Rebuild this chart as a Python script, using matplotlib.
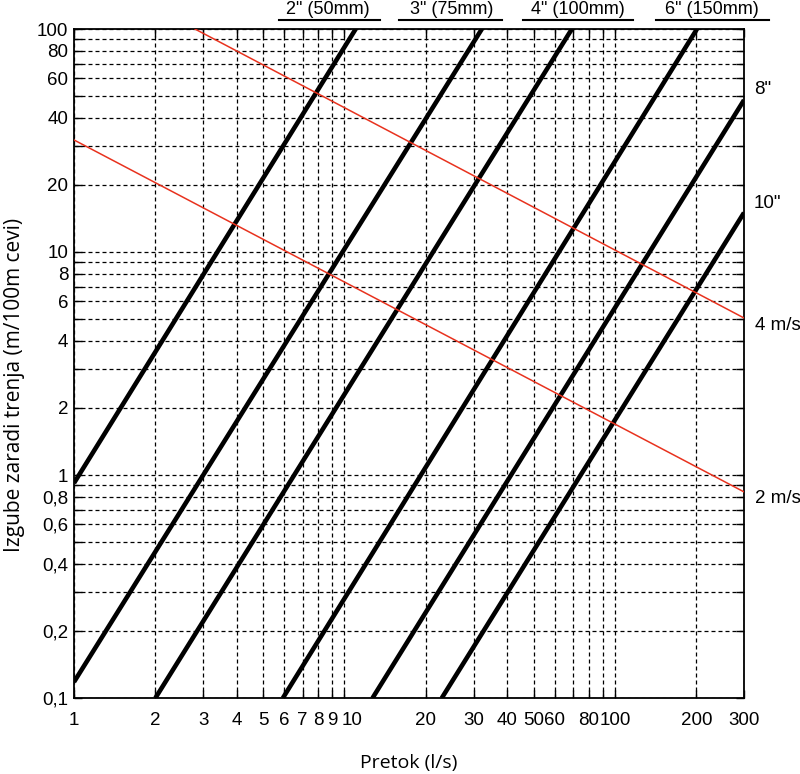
import matplotlib
matplotlib.use("Agg")
import matplotlib.pyplot as plt
import matplotlib.transforms as mtransforms
from matplotlib.lines import Line2D

# ---- data ----
# pipe friction lines (flow l/s, loss m/100m) : two end points each
pipe_names = ['2"', '3"', '4"', '6"', '8"', '10"']
pipe_q = [[1.0, 11.0], [1.0, 32.2], [2.0, 69.3], [5.92, 201.0], [12.7, 300.0], [22.9, 300.0]]
pipe_h = [[0.92, 100.0], [0.118, 100.0], [0.1, 100.0], [0.1, 100.0], [0.1, 48.0], [0.1, 15.0]]

# velocity lines
vel_names = ['4 m/s', '2 m/s']
vel_q = [[2.8, 300.0], [1.0, 300.0]]
vel_h = [[100.0, 5.06], [31.8, 0.84]]

x_ticks = [1, 2, 3, 4, 5, 6, 7, 8, 9, 10, 20, 30, 40, 50, 60, 70, 80, 90, 100, 200, 300]
x_tick_labels = ['1', '2', '3', '4', '5', '6', '7', '8', '9', '10', '20', '30', '40', '50', '60',
                 '', '80', '', '100', '200', '300']
y_ticks = [0.1, 0.2, 0.3, 0.4, 0.5, 0.6, 0.7, 0.8, 0.9, 1, 2, 3, 4, 5, 6, 7, 8, 9, 10,
           20, 30, 40, 50, 60, 70, 80, 90, 100]
y_tick_labels = ['0,1', '0,2', '', '0,4', '', '0,6', '', '0,8', '', '1', '2', '', '4', '', '6', '', '8', '',
                 '10', '20', '', '40', '', '60', '', '80', '', '100']

top_labels = ['2" (50mm)', '3" (75mm)', '4" (100mm)', '6" (150mm)']
x_label = 'Pretok (l/s)'
y_label = 'Izgube zaradi trenja (m/100m cevi)'

# ---- figure ----
W, H = 800, 774
fig = plt.figure(figsize=(W / 100, H / 100), dpi=100)
L, R, T, B = 74, 744, 29, 698
ax = fig.add_axes([L / W, 1 - B / H, (R - L) / W, (B - T) / H])
ax.set_xscale('log')
ax.set_yscale('log')
ax.set_xlim(1, 300)
ax.set_ylim(0.1, 100)

ax.set_xticks(x_ticks)
ax.set_xticklabels(x_tick_labels)
ax.set_yticks(y_ticks)
ax.set_yticklabels(y_tick_labels)
ax.xaxis.set_minor_locator(matplotlib.ticker.NullLocator())
ax.yaxis.set_minor_locator(matplotlib.ticker.NullLocator())

tick_font = 'Liberation Sans'
ax.tick_params(axis='both', which='major', direction='in', length=6, width=1,
               top=True, right=True, labelsize=13.5, colors='black')
ax.tick_params(axis='x', pad=10)
ax.tick_params(axis='y', pad=4)
for lab in ax.get_xticklabels() + ax.get_yticklabels():
    lab.set_fontfamily(tick_font)

# the "10" label sits a little right of its tick in the reference
shift = mtransforms.ScaledTranslation(8 / 100, 0, fig.dpi_scale_trans)
for t in ax.xaxis.get_major_ticks():
    if t.label1.get_text() == '10':
        t.label1.set_transform(t.label1.get_transform() + shift)

ax.grid(True, which='major', color='black', linewidth=0.9, linestyle=(0, (3.2, 2.4)))
for s in ax.spines.values():
    s.set_linewidth(1.3)

for q, h in zip(pipe_q, pipe_h):
    ax.plot(q, h, color='black', linewidth=3.3, solid_capstyle='butt', zorder=3)
for q, h in zip(vel_q, vel_h):
    ax.plot(q, h, color='#e8321e', linewidth=1.1, zorder=4)

# right-side labels
right_pos = {'8"': 90, '10"': 203, '4 m/s': 325, '2 m/s': 499}
for name in ['8"', '10"']:
    fig.text(754 / W, 1 - right_pos[name] / H, name, ha='left', va='center',
             fontsize=13.5, family=tick_font)
for name in vel_names:
    fig.text(755 / W, 1 - right_pos[name] / H, name, ha='left', va='center',
             fontsize=13.5, family=tick_font)

# top labels with underline
top_cx = [328, 452, 578, 712]
top_ul = [(279, 380), (399, 502), (523, 633), (656, 769)]
for txt, cx, (x0, x1) in zip(top_labels, top_cx, top_ul):
    fig.text(cx / W, 1 - 9 / H, txt, ha='center', va='center', fontsize=13, family=tick_font)
    fig.add_artist(Line2D([x0 / W, x1 / W], [1 - 20 / H, 1 - 20 / H],
                          color='black', linewidth=1.5, transform=fig.transFigure))

fig.text(409 / W, 1 - 763 / H, x_label, ha='center', va='center', fontsize=14, family='Open Sans')
fig.text(15 / W, 1 - 385 / H, y_label, ha='center', va='center', rotation=90,
         fontsize=15, family='Open Sans')

fig.savefig('out.png', dpi=100)
